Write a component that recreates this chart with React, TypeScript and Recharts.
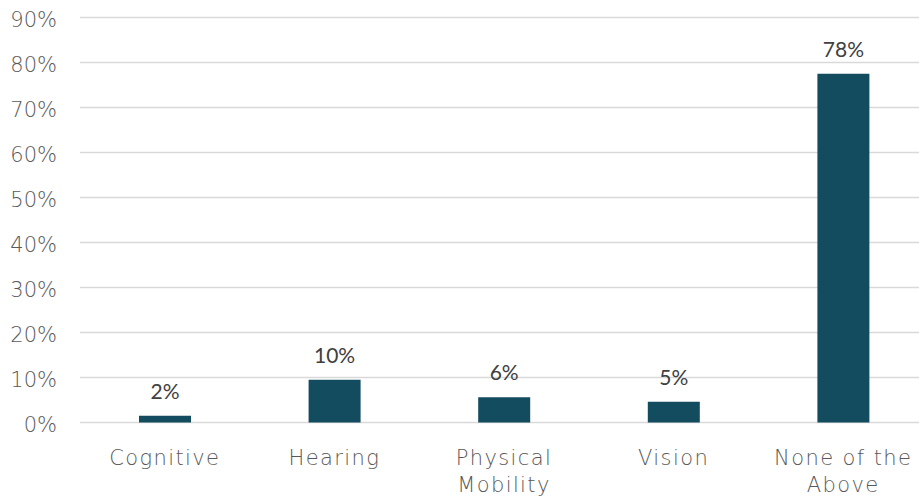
import React from 'react';
import { BarChart, Bar, XAxis, YAxis, CartesianGrid, LabelList } from 'recharts';

const categories = ['Cognitive', 'Hearing', 'Physical Mobility', 'Vision', 'None of the Above'];
const shares = [1.5, 9.5, 5.6, 4.6, 77.5];
const yTicks = [0, 10, 20, 30, 40, 50, 60, 70, 80, 90];

const data = categories.map((name, i) => ({ name, value: shares[i] }));

const AXIS_FONT = '"DejaVu Sans", sans-serif';
const LABEL_FONT = 'Lato, "Open Sans", sans-serif';

// greedy word wrap, Excel style
const wrap = (text: string, max: number) => {
  const lines: string[] = [];
  let cur = '';
  text.split(' ').forEach(w => {
    const next = cur ? `${cur} ${w}` : w;
    if (next.length > max && cur) {
      lines.push(cur);
      cur = w;
    } else {
      cur = next;
    }
  });
  if (cur) lines.push(cur);
  return lines;
};

const CategoryTick = (props: any) => {
  const { x, y, payload } = props;
  const lines = wrap(String(payload.value), 11);
  return (
    <text x={x} y={y} textAnchor="middle" fill="#595959" fontFamily={AXIS_FONT} fontWeight={200} fontSize={21} letterSpacing={1.4}>
      {lines.map((line, i) => (
        <tspan key={i} x={x} dy={i === 0 ? 42 : 27}>{line}</tspan>
      ))}
    </text>
  );
};

const App: React.FC = () => {
  return (
    <div style={{ position: 'absolute', left: 0, top: 0, width: 919, height: 499, overflow: 'hidden', background: '#fff' }}>
      <BarChart width={928} height={499} data={data} margin={{ top: 17.5, right: 0, left: 0, bottom: 0 }}>
        <CartesianGrid vertical={false} stroke="#D9D9D9" strokeWidth={1.4} />
        <XAxis
          dataKey="name"
          axisLine={false}
          tickLine={false}
          tickSize={0}
          tickMargin={0}
          height={76.5}
          interval={0}
          tick={<CategoryTick />}
        />
        <YAxis
          domain={[0, 90]}
          ticks={yTicks}
          tickFormatter={(v) => `${v}%`}
          axisLine={false}
          tickLine={false}
          tickSize={0}
          tickMargin={23}
          width={80}
          tick={{ fill: '#595959', fontFamily: AXIS_FONT, fontWeight: 200, fontSize: 21, dy: 2 }}
        />
        <Bar dataKey="value" fill="#134B5F" barSize={52} isAnimationActive={false}>
          <LabelList
            dataKey="value"
            position="top"
            offset={17}
            formatter={(v: any) => `${Math.round(Number(v))}%`}
            style={{ fill: '#404040', fontFamily: LABEL_FONT, fontSize: 21 }}
          />
        </Bar>
      </BarChart>
    </div>
  );
};

export default App;
